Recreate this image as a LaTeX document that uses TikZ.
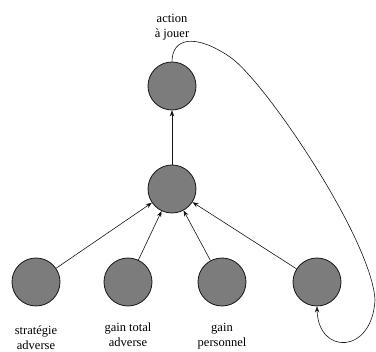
\documentclass[tikz,border=0pt]{standalone}
\usepackage{fontspec}
\setmainfont{Liberation Serif}
\usepackage{tikz}
\usetikzlibrary{positioning, arrows.meta}
\definecolor{ink}{HTML}{151515}
\definecolor{dot}{HTML}{7C7C7C}
\tikzset{
  unit/.style = {circle, draw=ink, thick, fill=dot, minimum size=48pt,
                 inner sep=0pt},
  lbl/.style  = {align=center, inner sep=1pt,
                 font=\fontsize{12.5}{15}\selectfont},
  ar/.style   = {-{Stealth[length=6pt,width=4.5pt]}, semithick, draw=ink},
}

\begin{document}
\begin{tikzpicture}[x=1pt, y=-1pt]

  \useasboundingbox (0,0) rectangle (376,352);

  \node[unit] (act)   at (172,86)  {};
  \node[unit] (mid)   at (172,189) {};
  \node[unit] (strat) at (36,282)  {};
  \node[unit] (gtot)  at (128,282) {};
  \node[unit] (gpers) at (222,282) {};
  \node[unit] (prev)  at (317,282) {};

  \node[lbl, above=20pt of act]   (actlbl)   {action\\à jouer};
  \node[lbl, below=18pt of strat] (stratlbl) {stratégie\\adverse};
  \node[lbl, below=15pt of gtot]  (gtotlbl)  {gain total\\adverse};
  \node[lbl, below=16pt of gpers] (gperslbl) {gain\\personnel};

  \draw[ar] (mid) -- (act);
  \draw[ar] (strat) -- (mid);
  \draw[ar] (gtot) -- (mid);
  \draw[ar] (gpers) -- (mid);
  \draw[ar] (prev) -- (mid);

  % boucle : l'action jouee revient en entree
  \draw[ar] (act.north) .. controls (172,38) and (195,33) .. (230,57)
            .. controls (265,81) and (372,240) .. (375,300)
            .. controls (372,355) and (318,355) .. (prev.south);

\end{tikzpicture}
\end{document}
